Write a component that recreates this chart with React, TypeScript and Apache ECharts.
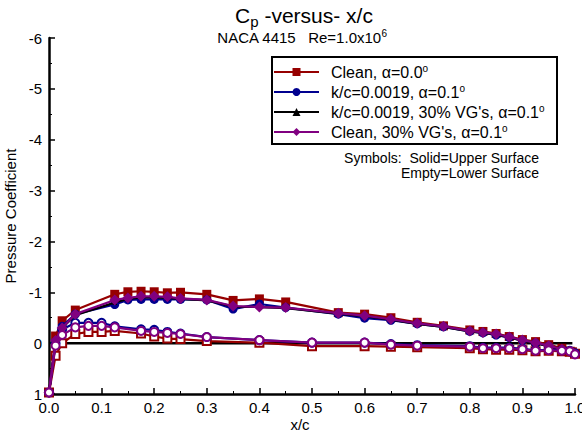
import React, { useEffect, useRef } from "react";
import * as echarts from "echarts";

// Upper-surface tap locations (x/c)
const upperX = [0, 0.0125, 0.025, 0.05, 0.125, 0.15, 0.175, 0.2, 0.225, 0.25, 0.3, 0.35, 0.4, 0.45, 0.55, 0.6, 0.65, 0.7, 0.75, 0.8, 0.825, 0.85, 0.875, 0.9, 0.925, 0.95, 0.975, 0.995];
// Lower-surface tap locations (x/c)
const lowerX = [0, 0.0125, 0.025, 0.05, 0.075, 0.1, 0.125, 0.175, 0.2, 0.225, 0.25, 0.3, 0.4, 0.5, 0.6, 0.65, 0.7, 0.8, 0.825, 0.85, 0.875, 0.9, 0.925, 0.95, 0.975, 0.99, 1.0];
// Lower-surface taps recorded for the k/c=0.0019 + VG's run
const vgLowerX = [0.0125, 0.025, 0.05, 0.075, 0.1, 0.125, 0.175, 0.2, 0.225, 0.25, 0.3, 0.4, 0.5, 0.6, 0.65, 0.7, 0.8, 0.825, 0.85, 0.875, 0.9, 0.925, 0.95, 0.975, 0.995];

// Clean, alpha = 0.0
const cleanUpper = [0.97, -0.14, -0.44, -0.65, -0.96, -1.01, -1.02, -1.01, -0.99, -1.0, -0.96, -0.84, -0.87, -0.81, -0.6, -0.57, -0.5, -0.41, -0.34, -0.26, -0.23, -0.19, -0.13, -0.07, -0.03, 0.03, 0.1, 0.17];
const cleanLower = [0.97, 0.25, 0.0, -0.18, -0.22, -0.22, -0.24, -0.19, -0.13, -0.09, -0.08, -0.04, -0.01, 0.06, 0.06, 0.07, 0.08, 0.1, 0.12, 0.13, 0.13, 0.14, 0.16, 0.15, 0.16, 0.17, 0.21];
// k/c = 0.0019, alpha = 0.1
const roughUpper = [0.97, -0.03, -0.33, -0.57, -0.76, -0.85, -0.86, -0.86, -0.86, -0.86, -0.85, -0.67, -0.77, -0.7, -0.57, -0.49, -0.45, -0.38, -0.32, -0.23, -0.2, -0.16, -0.11, -0.05, 0.0, 0.06, 0.13, 0.19];
const roughLower = [0.97, 0.0, -0.27, -0.4, -0.4, -0.4, -0.33, -0.27, -0.26, -0.22, -0.19, -0.12, -0.06, -0.01, -0.01, 0.02, 0.04, 0.06, 0.09, 0.09, 0.09, 0.11, 0.14, 0.13, 0.14, 0.15, 0.2];
// k/c = 0.0019, 30% VG's, alpha = 0.1
const roughVgUpper = [0.97, 0.0, -0.3, -0.55, -0.8, -0.87, -0.9, -0.9, -0.89, -0.87, -0.84, -0.72, -0.71, -0.69, -0.58, -0.53, -0.46, -0.38, -0.32, -0.23, -0.2, -0.17, -0.11, -0.05, 0.0, 0.06, 0.12, 0.18];
const roughVgLower = [0.0, 0.0, 0.0, 0.0, 0.0, 0.0, 0.0, 0.0, 0.0, 0.0, 0.0, 0.0, 0.0, 0.0, 0.0, 0.0, 0.0, 0.0, 0.0, 0.0, 0.0, 0.0, 0.0, 0.0, 0.0];
// Clean, 30% VG's, alpha = 0.1
const cleanVgUpper = [0.97, -0.05, -0.3, -0.57, -0.85, -0.89, -0.92, -0.92, -0.91, -0.88, -0.85, -0.73, -0.71, -0.7, -0.59, -0.54, -0.47, -0.39, -0.33, -0.24, -0.21, -0.18, -0.12, -0.06, -0.01, 0.05, 0.12, 0.18];
const cleanVgLower = [0.97, 0.05, -0.16, -0.31, -0.34, -0.34, -0.31, -0.24, -0.22, -0.2, -0.18, -0.12, -0.06, -0.01, -0.01, 0.03, 0.05, 0.07, 0.1, 0.1, 0.1, 0.12, 0.15, 0.14, 0.15, 0.16, 0.22];

const seriesNames = ["Clean, α=0.0", "k/c=0.0019, α=0.1", "k/c=0.0019, 30% VG's, α=0.1", "Clean, 30% VG's, α=0.1"];

const FONT = "'Liberation Sans', Arial, Helvetica, sans-serif";
const RED = "#960000";
const BLUE = "#00008f";
const BLACK = "#000000";
const PURPLE = "#800080";

function pairs(xs: number[], ys: number[]) {
  return xs.map((x, i) => [x, ys[i]]);
}

export default function App() {
  const ref = useRef<HTMLDivElement>(null);
  useEffect(() => {
    if (!ref.current) return;
    const chart = echarts.init(ref.current, null, { renderer: "svg" });

    const mk = (
      name: string,
      data: number[][],
      color: string,
      symbol: string,
      size: number,
      z: number,
      lineWidth = 2.2
    ) => ({
      name,
      type: "line",
      data,
      clip: false,
      z,
      symbol,
      symbolSize: size,
      showAllSymbol: true,
      color,
      lineStyle: { color, width: lineWidth },
      itemStyle: { color, borderColor: color, borderWidth: symbol.startsWith("empty") ? 2 : 0 },
      emphasis: { disabled: true },
    });

    const option: any = {
      animation: false,
      grid: { left: 49, right: 7, top: 38, bottom: 40, containLabel: false, outerBoundsMode: "none" },
      xAxis: {
        type: "value",
        min: 0,
        max: 1,
        interval: 0.1,
        axisLine: { onZero: false, lineStyle: { color: "#000", width: 2.5 } },
        axisTick: { inside: true, length: 6, lineStyle: { color: "#000", width: 1.5 } },
        minorTick: { show: true, splitNumber: 2, length: 3, lineStyle: { color: "#000", width: 1 } },
        splitLine: { show: false },
        axisLabel: {
          fontFamily: FONT,
          fontSize: 15,
          color: "#000",
          margin: 6,
          hideOverlap: false,
          formatter: (v: number) => v.toFixed(1),
        },
      },
      yAxis: {
        type: "value",
        inverse: true,
        min: -6,
        max: 1,
        interval: 1,
        name: "Pressure Coefficient",
        nameLocation: "middle",
        nameGap: 30,
        nameRotate: 90,
        nameTextStyle: { fontFamily: FONT, fontSize: 15, color: "#000" },
        axisLine: { show: true, onZero: false, lineStyle: { color: "#000", width: 2.5 } },
        axisTick: { show: true, inside: true, length: 6, lineStyle: { color: "#000", width: 1.5 } },
        minorTick: { show: true, splitNumber: 2, length: 3, lineStyle: { color: "#000", width: 1 } },
        splitLine: { show: false },
        axisLabel: {
          fontFamily: FONT,
          fontSize: 15,
          color: "#000",
          margin: 7,
          formatter: (v: number) => String(v),
        },
      },
      legend: {
        left: 273,
        top: 63,
        padding: 0,
        orient: "vertical",
        itemWidth: 45,
        itemHeight: 10,
        itemGap: 2,
        data: seriesNames,
        selectedMode: false,
        formatter: (name: string) => name + "{sup|o}",
        textStyle: {
          fontFamily: FONT,
          fontSize: 16,
          color: "#000",
          lineHeight: 18,
          padding: [0, 0, 0, 7],
          rich: {
            sup: { fontFamily: FONT, fontSize: 10, color: "#000", verticalAlign: "top", lineHeight: 12 },
          },
        },
      },
      graphic: [
        {
          type: "rect",
          shape: { x: 272, y: 57, width: 285, height: 87 },
          style: { fill: "#fff", stroke: "#000", lineWidth: 2 },
          z: 1,
          silent: true,
        },
        {
          type: "text",
          x: 304,
          y: 15,
          style: {
            text: "C{sub|p} -versus- x/c",
            fontFamily: FONT,
            fontSize: 21,
            fill: "#000",
            align: "center",
            verticalAlign: "middle",
            lineHeight: 28,
            rich: {
              sub: { fontFamily: FONT, fontSize: 15, fill: "#000", verticalAlign: "bottom", lineHeight: 15 },
            },
          },
          silent: true,
        },
        {
          type: "text",
          x: 302,
          y: 37,
          style: {
            text: "NACA 4415   Re=1.0x10{sup|6}",
            fontFamily: FONT,
            fontSize: 15,
            fill: "#000",
            align: "center",
            verticalAlign: "middle",
            lineHeight: 18,
            rich: {
              sup: { fontFamily: FONT, fontSize: 10, fill: "#000", verticalAlign: "top", lineHeight: 11 },
            },
          },
          silent: true,
        },
        {
          type: "text",
          x: 539,
          y: 158,
          style: {
            text: "Symbols:  Solid=Upper Surface",
            fontFamily: FONT,
            fontSize: 14,
            lineHeight: 14,
            fill: "#000",
            align: "right",
            verticalAlign: "middle",
          },
          silent: true,
        },
        {
          type: "text",
          x: 539,
          y: 173,
          style: {
            text: "Empty=Lower Surface",
            fontFamily: FONT,
            fontSize: 14,
            lineHeight: 14,
            fill: "#000",
            align: "right",
            verticalAlign: "middle",
          },
          silent: true,
        },
        {
          type: "text",
          x: 300,
          y: 424,
          style: {
            text: "x/c",
            fontFamily: FONT,
            fontSize: 15,
            lineHeight: 15,
            fill: "#000",
            align: "center",
            verticalAlign: "middle",
          },
          silent: true,
        },
      ],
      series: [
        mk(seriesNames[2] + " lower", pairs(vgLowerX, roughVgLower), BLACK, "none", 0, 2, 2.5),
        mk(seriesNames[0], pairs(upperX, cleanUpper), RED, "rect", 9, 3),
        mk(seriesNames[0] + " lower", pairs(lowerX, cleanLower), RED, "emptyRect", 8, 3),
        mk(seriesNames[1], pairs(upperX, roughUpper), BLUE, "circle", 9, 4),
        mk(seriesNames[1] + " lower", pairs(lowerX, roughLower), BLUE, "emptyCircle", 8, 4),
        mk(seriesNames[2], pairs(upperX, roughVgUpper), BLACK, "triangle", 5, 5),
        mk(seriesNames[3], pairs(upperX, cleanVgUpper), PURPLE, "diamond", 11, 6),
        mk(seriesNames[3] + " lower", pairs(lowerX, cleanVgLower), PURPLE, "emptyCircle", 8, 6),
      ],
    };
    chart.setOption(option);
    return () => chart.dispose();
  }, []);

  return <div ref={ref} style={{ width: 582, height: 434, position: "absolute", left: 0, top: 0 }} />;
}
